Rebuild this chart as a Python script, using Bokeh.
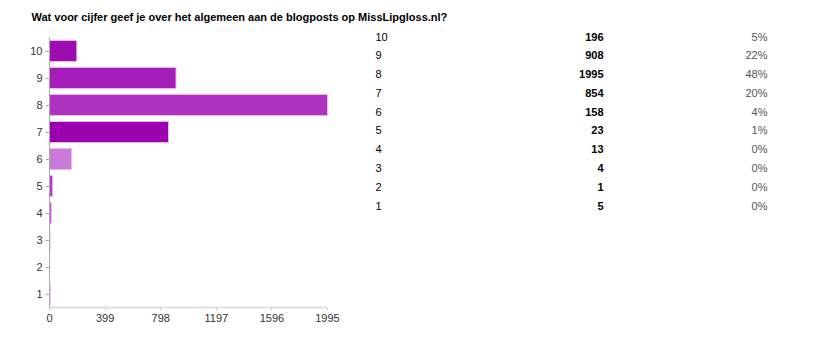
from bokeh.plotting import figure
from bokeh.models import Range1d, FixedTicker, ColumnDataSource
from bokeh.core.properties import value
from bokeh.embed import file_html
from bokeh.resources import INLINE

# ---- data ----
title = "Wat voor cijfer geef je over het algemeen aan de blogposts op MissLipgloss.nl?"
categories = [10, 9, 8, 7, 6, 5, 4, 3, 2, 1]
counts = [196, 908, 1995, 854, 158, 23, 13, 4, 1, 5]
percent_labels = ["5%", "22%", "48%", "20%", "4%", "1%", "0%", "0%", "0%", "0%"]
bar_colors = ["#9d0cb1", "#a51cba", "#ae33be", "#9b00ae", "#c87ad6",
              "#b53ac7", "#b548c8", "#d6a0df", "#e0c0e6", "#d8aee0"]

# ---- layout constants (pixels) ----
W, H = 815, 353
frame_left, frame_right = 49, 805
frame_top, frame_bottom = 25, 307
axis_end_px = 327            # where the max count sits
bar_top_px = 37              # top of category 10.5
row0_px, row_step = 36, 18.78
col_label_px, col_count_px, col_pct_px = 375, 603, 767

max_count = max(counts)
x_end = max_count * (frame_right - frame_left) / (axis_end_px - frame_left)
unit = (frame_bottom - bar_top_px) / len(categories)
y_end = 0.5 + (frame_bottom - frame_top) / unit

p = figure(width=W, height=H, output_backend="svg", toolbar_location=None,
           x_range=Range1d(0, x_end), y_range=Range1d(0.5, y_end),
           min_border_left=frame_left, min_border_right=W - frame_right,
           min_border_top=frame_top, min_border_bottom=H - frame_bottom)

p.title.text = title
p.title.text_font = "Liberation Sans"
p.title.text_font_size = "11px"
p.title.text_font_style = "bold"
p.title.text_color = "#000000"
p.title.offset = 31 - frame_left
p.title.standoff = 6

p.outline_line_color = None
p.xgrid.visible = False
p.ygrid.visible = False
p.background_fill_color = "white"
p.border_fill_color = "white"

src = ColumnDataSource(dict(cat=categories, count=counts, color=bar_colors))
p.hbar(y="cat", right="count", left=0, height=0.78, source=src,
       fill_color="color", line_color="#ecb6f2", line_width=1)

# axes
p.xaxis.ticker = FixedTicker(ticks=[round(max_count * i / 5) for i in range(6)])
p.xaxis.bounds = (0, max_count)
p.xaxis.axis_line_color = "#dddddd"
p.xaxis.axis_line_width = 2
p.xaxis.major_tick_line_color = "#cccccc"
p.xaxis.major_tick_out = 3
p.xaxis.major_tick_in = 0
p.xaxis.minor_tick_line_color = None
p.xaxis.major_label_text_font = "Liberation Sans"
p.xaxis.major_label_text_font_size = "11px"
p.xaxis.major_label_text_color = "#333333"
p.xaxis.major_label_standoff = 3

p.yaxis.ticker = FixedTicker(ticks=categories)
p.yaxis.bounds = (0.5, 10.5)
p.yaxis.axis_line_color = "#aaaaaa"
p.yaxis.major_tick_line_color = "#aaaaaa"
p.yaxis.major_tick_out = 4
p.yaxis.major_tick_in = 0
p.yaxis.minor_tick_line_color = None
p.yaxis.major_label_text_font = "Liberation Sans"
p.yaxis.major_label_text_font_size = "11px"
p.yaxis.major_label_text_color = "#333333"
p.yaxis.major_label_standoff = 3

# table on the right, using its own pixel-like ranges
p.extra_x_ranges = {"tx": Range1d(frame_left, frame_right)}
p.extra_y_ranges = {"ty": Range1d((frame_bottom - row0_px) / row_step,
                                  (frame_top - row0_px) / row_step)}
rows = list(range(len(categories)))
tsrc = ColumnDataSource(dict(row=rows,
                             lab=[str(c) for c in categories],
                             cnt=[str(c) for c in counts],
                             pct=percent_labels,
                             xl=[col_label_px] * len(rows),
                             xc=[col_count_px] * len(rows),
                             xp=[col_pct_px] * len(rows)))
common = dict(source=tsrc, y="row", x_range_name="tx", y_range_name="ty",
              text_font=value("Liberation Sans"), text_font_size="11px",
              text_baseline="middle")
p.text(x="xl", text="lab", text_align="left", text_color="#000000", **common)
p.text(x="xc", text="cnt", text_align="right", text_color="#000000",
       text_font_style="bold", **common)
p.text(x="xp", text="pct", text_align="right", text_color="#555555", **common)

open("out.html", "w").write(file_html(p, INLINE))
